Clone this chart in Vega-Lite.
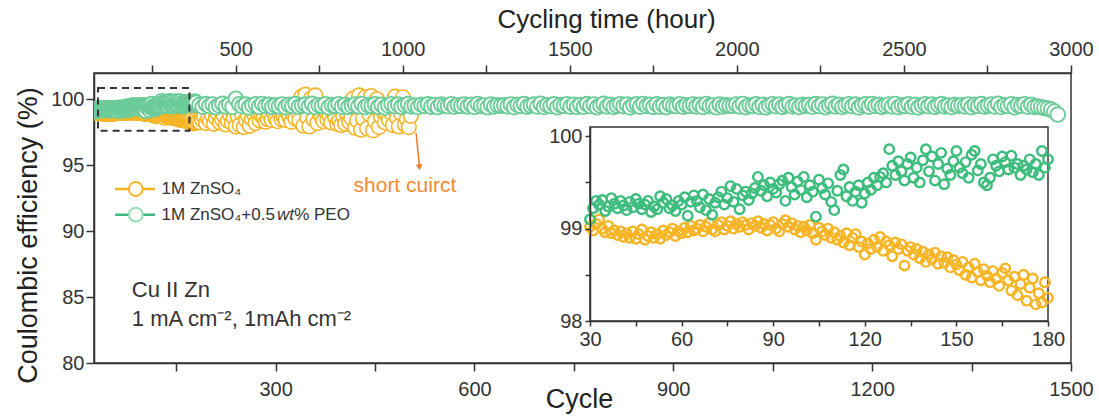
{
"$schema": "https://vega.github.io/schema/vega-lite/v6.json",
"width": 977, "height": 290,
"autosize": {"type": "none"},
"padding": {"left": 94, "top": 73, "right": 28, "bottom": 53},
"background": "white",
"config": {
  "font": "Liberation Sans",
  "view": {"stroke": "#333333", "strokeWidth": 1.5},
  "axis": {"grid": false, "domainColor": "#333333", "domainWidth": 1.5, "tickColor": "#333333", "tickWidth": 1.5, "labelColor": "#333333", "labelFont": "Liberation Sans", "titleFont": "Liberation Sans", "titleFontWeight": "normal", "titleColor": "#222222", "labelOverlap": false, "labelFlush": false, "labelFontSize": 20}
},
"datasets": {
"orange": [
{"c":27,"v":99.05},{"c":28,"v":99.00},{"c":29,"v":99.08},{"c":30,"v":99.02},{"c":31,"v":98.98},{"c":32,"v":99.05},{"c":33,"v":99.10},{"c":34,"v":99.00},{"c":35,"v":98.96},{"c":36,"v":99.03},{"c":37,"v":98.95},{"c":38,"v":98.98},{"c":39,"v":98.93},{"c":40,"v":98.97},{"c":41,"v":98.91},{"c":42,"v":98.95},{"c":43,"v":98.90},{"c":44,"v":98.97},{"c":45,"v":98.89},{"c":46,"v":98.94},{"c":47,"v":98.99},{"c":48,"v":98.88},{"c":49,"v":98.92},{"c":50,"v":98.96},{"c":51,"v":98.90},{"c":52,"v":98.94},{"c":53,"v":98.89},{"c":54,"v":98.98},{"c":55,"v":98.93},{"c":56,"v":98.96},{"c":57,"v":99.00},{"c":58,"v":98.92},{"c":59,"v":98.97},{"c":60,"v":98.95},{"c":61,"v":99.01},{"c":62,"v":98.96},{"c":63,"v":99.03},{"c":64,"v":98.98},{"c":65,"v":99.00},{"c":66,"v":99.04},{"c":67,"v":98.97},{"c":68,"v":99.02},{"c":69,"v":99.06},{"c":70,"v":98.99},{"c":71,"v":98.97},{"c":72,"v":99.04},{"c":73,"v":99.07},{"c":74,"v":98.99},{"c":75,"v":99.03},{"c":76,"v":99.08},{"c":77,"v":99.00},{"c":78,"v":99.05},{"c":79,"v":99.02},{"c":80,"v":99.07},{"c":81,"v":99.04},{"c":82,"v":98.99},{"c":83,"v":99.06},{"c":84,"v":99.03},{"c":85,"v":99.08},{"c":86,"v":99.01},{"c":87,"v":99.05},{"c":88,"v":98.98},{"c":89,"v":99.04},{"c":90,"v":99.07},{"c":91,"v":99.00},{"c":92,"v":98.97},{"c":93,"v":99.05},{"c":94,"v":99.09},{"c":95,"v":99.02},{"c":96,"v":99.06},{"c":97,"v":98.99},{"c":98,"v":99.03},{"c":99,"v":98.96},{"c":100,"v":99.02},{"c":101,"v":98.98},{"c":102,"v":99.04},{"c":103,"v":98.95},{"c":104,"v":98.88},{"c":105,"v":99.01},{"c":106,"v":98.97},{"c":107,"v":98.93},{"c":108,"v":99.00},{"c":109,"v":98.90},{"c":110,"v":98.96},{"c":111,"v":98.88},{"c":112,"v":98.92},{"c":113,"v":98.85},{"c":114,"v":98.95},{"c":115,"v":98.82},{"c":116,"v":98.90},{"c":117,"v":98.94},{"c":118,"v":98.80},{"c":119,"v":98.86},{"c":120,"v":98.72},{"c":121,"v":98.84},{"c":122,"v":98.78},{"c":123,"v":98.88},{"c":124,"v":98.80},{"c":125,"v":98.91},{"c":126,"v":98.76},{"c":127,"v":98.86},{"c":128,"v":98.82},{"c":129,"v":98.70},{"c":130,"v":98.85},{"c":131,"v":98.78},{"c":132,"v":98.83},{"c":133,"v":98.60},{"c":134,"v":98.76},{"c":135,"v":98.80},{"c":136,"v":98.72},{"c":137,"v":98.78},{"c":138,"v":98.68},{"c":139,"v":98.75},{"c":140,"v":98.64},{"c":141,"v":98.72},{"c":142,"v":98.67},{"c":143,"v":98.74},{"c":144,"v":98.62},{"c":145,"v":98.70},{"c":146,"v":98.63},{"c":147,"v":98.69},{"c":148,"v":98.58},{"c":149,"v":98.66},{"c":150,"v":98.61},{"c":151,"v":98.55},{"c":152,"v":98.64},{"c":153,"v":98.50},{"c":154,"v":98.58},{"c":155,"v":98.47},{"c":156,"v":98.62},{"c":157,"v":98.53},{"c":158,"v":98.44},{"c":159,"v":98.56},{"c":160,"v":98.49},{"c":161,"v":98.42},{"c":162,"v":98.54},{"c":163,"v":98.46},{"c":164,"v":98.38},{"c":165,"v":98.52},{"c":166,"v":98.57},{"c":167,"v":98.44},{"c":168,"v":98.33},{"c":169,"v":98.48},{"c":170,"v":98.28},{"c":171,"v":98.40},{"c":172,"v":98.50},{"c":173,"v":98.22},{"c":174,"v":98.36},{"c":175,"v":98.46},{"c":176,"v":98.18},{"c":177,"v":98.30},{"c":178,"v":98.20},{"c":179,"v":98.42},{"c":180,"v":98.25},
{"c":183,"v":98.30},{"c":186,"v":98.25},{"c":189,"v":98.45},{"c":192,"v":98.70},{"c":195,"v":98.20},{"c":198,"v":98.55},{"c":201,"v":98.35},{"c":204,"v":98.80},{"c":207,"v":98.15},{"c":210,"v":98.60},{"c":213,"v":98.90},{"c":216,"v":98.25},{"c":219,"v":98.50},{"c":222,"v":98.75},{"c":225,"v":98.10},{"c":228,"v":98.40},{"c":231,"v":98.85},{"c":234,"v":98.20},{"c":237,"v":98.60},{"c":240,"v":97.95},{"c":243,"v":98.70},{"c":246,"v":98.05},{"c":249,"v":98.95},{"c":252,"v":97.90},{"c":255,"v":98.45},{"c":258,"v":98.80},{"c":261,"v":98.00},{"c":264,"v":98.55},{"c":267,"v":98.90},{"c":270,"v":98.20},{"c":273,"v":99.00},{"c":276,"v":98.40},{"c":279,"v":98.75},{"c":282,"v":98.60},{"c":285,"v":98.30},{"c":288,"v":98.50},{"c":291,"v":98.85},{"c":294,"v":98.45},{"c":297,"v":99.05},{"c":300,"v":98.55},{"c":303,"v":98.35},{"c":306,"v":98.90},{"c":309,"v":98.50},{"c":312,"v":98.70},{"c":315,"v":98.45},{"c":318,"v":99.00},{"c":321,"v":98.65},{"c":324,"v":98.30},{"c":327,"v":98.85},{"c":330,"v":98.55},{"c":333,"v":99.10},{"c":336,"v":98.40},{"c":339,"v":100.20},{"c":342,"v":98.00},{"c":345,"v":100.35},{"c":348,"v":98.60},{"c":351,"v":97.95},{"c":354,"v":100.10},{"c":357,"v":98.50},{"c":360,"v":100.30},{"c":363,"v":98.20},{"c":366,"v":99.00},{"c":369,"v":98.70},{"c":372,"v":98.35},{"c":375,"v":99.15},{"c":378,"v":98.50},{"c":381,"v":98.80},{"c":384,"v":98.25},{"c":387,"v":99.05},{"c":390,"v":98.60},{"c":393,"v":98.15},{"c":396,"v":98.40},{"c":399,"v":98.05},{"c":402,"v":98.75},{"c":405,"v":98.15},{"c":408,"v":98.90},{"c":411,"v":98.30},{"c":414,"v":98.60},{"c":417,"v":100.05},{"c":420,"v":97.85},{"c":423,"v":98.40},{"c":426,"v":100.30},{"c":429,"v":97.70},{"c":432,"v":98.55},{"c":435,"v":100.15},{"c":438,"v":97.80},{"c":441,"v":98.90},{"c":444,"v":100.25},{"c":447,"v":97.65},{"c":450,"v":98.35},{"c":453,"v":100.00},{"c":456,"v":97.90},{"c":459,"v":98.70},{"c":462,"v":99.10},{"c":465,"v":98.25},{"c":468,"v":98.80},{"c":471,"v":98.45},{"c":474,"v":99.00},{"c":477,"v":98.05},{"c":480,"v":100.20},{"c":483,"v":98.60},{"c":486,"v":97.95},{"c":489,"v":98.95},{"c":492,"v":100.15},{"c":495,"v":98.10},{"c":498,"v":98.50},{"c":501,"v":97.90},{"c":504,"v":98.75}
],
"green": [
{"c":27,"v":99.20},{"c":28,"v":99.15},{"c":29,"v":99.25},{"c":30,"v":99.10},{"c":31,"v":99.22},{"c":32,"v":99.30},{"c":33,"v":99.26},{"c":34,"v":99.31},{"c":35,"v":99.19},{"c":36,"v":99.24},{"c":37,"v":99.33},{"c":38,"v":99.27},{"c":39,"v":99.22},{"c":40,"v":99.30},{"c":41,"v":99.25},{"c":42,"v":99.20},{"c":43,"v":99.29},{"c":44,"v":99.23},{"c":45,"v":99.32},{"c":46,"v":99.27},{"c":47,"v":99.21},{"c":48,"v":99.26},{"c":49,"v":99.30},{"c":50,"v":99.18},{"c":51,"v":99.24},{"c":52,"v":99.21},{"c":53,"v":99.35},{"c":54,"v":99.28},{"c":55,"v":99.32},{"c":56,"v":99.22},{"c":57,"v":99.25},{"c":58,"v":99.19},{"c":59,"v":99.30},{"c":60,"v":99.26},{"c":61,"v":99.34},{"c":62,"v":99.14},{"c":63,"v":99.29},{"c":64,"v":99.36},{"c":65,"v":99.30},{"c":66,"v":99.23},{"c":67,"v":99.37},{"c":68,"v":99.20},{"c":69,"v":99.32},{"c":70,"v":99.15},{"c":71,"v":99.28},{"c":72,"v":99.34},{"c":73,"v":99.40},{"c":74,"v":99.26},{"c":75,"v":99.33},{"c":76,"v":99.46},{"c":77,"v":99.29},{"c":78,"v":99.43},{"c":79,"v":99.21},{"c":80,"v":99.36},{"c":81,"v":99.40},{"c":82,"v":99.31},{"c":83,"v":99.38},{"c":84,"v":99.44},{"c":85,"v":99.56},{"c":86,"v":99.41},{"c":87,"v":99.47},{"c":88,"v":99.35},{"c":89,"v":99.50},{"c":90,"v":99.43},{"c":91,"v":99.39},{"c":92,"v":99.48},{"c":93,"v":99.52},{"c":94,"v":99.30},{"c":95,"v":99.55},{"c":96,"v":99.45},{"c":97,"v":99.37},{"c":98,"v":99.51},{"c":99,"v":99.42},{"c":100,"v":99.56},{"c":101,"v":99.34},{"c":102,"v":99.47},{"c":103,"v":99.40},{"c":104,"v":99.13},{"c":105,"v":99.53},{"c":106,"v":99.44},{"c":107,"v":99.37},{"c":108,"v":99.49},{"c":109,"v":99.29},{"c":110,"v":99.20},{"c":111,"v":99.41},{"c":112,"v":99.58},{"c":113,"v":99.64},{"c":114,"v":99.35},{"c":115,"v":99.45},{"c":116,"v":99.30},{"c":117,"v":99.40},{"c":118,"v":99.47},{"c":119,"v":99.28},{"c":120,"v":99.38},{"c":121,"v":99.50},{"c":122,"v":99.42},{"c":123,"v":99.55},{"c":124,"v":99.47},{"c":125,"v":99.56},{"c":126,"v":99.60},{"c":127,"v":99.50},{"c":128,"v":99.86},{"c":129,"v":99.68},{"c":130,"v":99.58},{"c":131,"v":99.73},{"c":132,"v":99.62},{"c":133,"v":99.52},{"c":134,"v":99.70},{"c":135,"v":99.77},{"c":136,"v":99.55},{"c":137,"v":99.66},{"c":138,"v":99.50},{"c":139,"v":99.74},{"c":140,"v":99.86},{"c":141,"v":99.62},{"c":142,"v":99.78},{"c":143,"v":99.52},{"c":144,"v":99.70},{"c":145,"v":99.82},{"c":146,"v":99.48},{"c":147,"v":99.65},{"c":148,"v":99.58},{"c":149,"v":99.73},{"c":150,"v":99.84},{"c":151,"v":99.66},{"c":152,"v":99.60},{"c":153,"v":99.72},{"c":154,"v":99.55},{"c":155,"v":99.80},{"c":156,"v":99.84},{"c":157,"v":99.63},{"c":158,"v":99.70},{"c":159,"v":99.50},{"c":160,"v":99.47},{"c":161,"v":99.55},{"c":162,"v":99.75},{"c":163,"v":99.68},{"c":164,"v":99.62},{"c":165,"v":99.78},{"c":166,"v":99.72},{"c":167,"v":99.64},{"c":168,"v":99.79},{"c":169,"v":99.66},{"c":170,"v":99.70},{"c":171,"v":99.58},{"c":172,"v":99.68},{"c":173,"v":99.64},{"c":174,"v":99.75},{"c":175,"v":99.61},{"c":176,"v":99.70},{"c":177,"v":99.58},{"c":178,"v":99.84},{"c":179,"v":99.66},{"c":180,"v":99.75},
{"c":185,"v":99.57},{"c":190,"v":99.44},{"c":195,"v":99.64},{"c":200,"v":99.49},{"c":205,"v":99.61},{"c":210,"v":99.40},{"c":215,"v":99.54},{"c":220,"v":99.66},{"c":225,"v":99.46},{"c":230,"v":99.59},{"c":235,"v":99.42},{"c":240,"v":100.05},{"c":245,"v":99.63},{"c":250,"v":99.48},{"c":255,"v":99.60},{"c":260,"v":99.39},{"c":265,"v":99.56},{"c":270,"v":99.62},{"c":275,"v":99.45},{"c":280,"v":99.65},{"c":285,"v":99.50},{"c":290,"v":99.58},{"c":295,"v":99.43},
{"c":300,"v":99.55},{"c":305,"v":99.47},{"c":310,"v":99.61},{"c":315,"v":99.41},{"c":320,"v":99.58},{"c":325,"v":99.50},{"c":330,"v":99.64},{"c":335,"v":99.44},{"c":340,"v":99.53},{"c":345,"v":99.60},{"c":350,"v":99.46},{"c":355,"v":99.66},{"c":360,"v":99.42},{"c":365,"v":99.56},{"c":370,"v":99.49},{"c":375,"v":99.62},{"c":380,"v":99.40},{"c":385,"v":99.57},{"c":390,"v":99.51},{"c":395,"v":99.63},{"c":400,"v":99.45},{"c":405,"v":99.59},{"c":410,"v":99.43},
{"c":415,"v":99.52},{"c":420,"v":99.61},{"c":425,"v":99.47},{"c":430,"v":99.65},{"c":435,"v":99.41},{"c":440,"v":99.55},{"c":445,"v":99.50},{"c":450,"v":99.62},{"c":455,"v":99.44},{"c":460,"v":99.58},{"c":465,"v":99.39},{"c":470,"v":99.54},{"c":475,"v":99.63},{"c":480,"v":99.48},{"c":485,"v":99.60},{"c":490,"v":99.43},{"c":495,"v":99.56},{"c":500,"v":99.64},{"c":505,"v":99.46},{"c":510,"v":99.53},{"c":515,"v":99.42},{"c":520,"v":99.59},{"c":525,"v":99.50},
{"c":530,"v":99.62},{"c":535,"v":99.45},{"c":540,"v":99.57},{"c":545,"v":99.41},{"c":550,"v":99.60},{"c":555,"v":99.52},{"c":560,"v":99.48},{"c":565,"v":99.63},{"c":570,"v":99.44},{"c":575,"v":99.56},{"c":580,"v":99.50},{"c":585,"v":99.61},{"c":590,"v":99.47},{"c":595,"v":99.58},{"c":600,"v":99.43},{"c":605,"v":99.65},{"c":610,"v":99.49},{"c":615,"v":99.54},{"c":620,"v":99.40},{"c":625,"v":99.60},{"c":630,"v":99.46},{"c":635,"v":99.55},{"c":640,"v":99.51},
{"c":645,"v":99.55},{"c":650,"v":99.47},{"c":655,"v":99.61},{"c":660,"v":99.41},{"c":665,"v":99.58},{"c":670,"v":99.50},{"c":675,"v":99.64},{"c":680,"v":99.44},{"c":685,"v":99.53},{"c":690,"v":99.60},{"c":695,"v":99.46},{"c":700,"v":99.66},{"c":705,"v":99.42},{"c":710,"v":99.56},{"c":715,"v":99.49},{"c":720,"v":99.62},{"c":725,"v":99.40},{"c":730,"v":99.57},{"c":735,"v":99.51},{"c":740,"v":99.63},{"c":745,"v":99.45},{"c":750,"v":99.59},{"c":755,"v":99.43},
{"c":760,"v":99.57},{"c":765,"v":99.44},{"c":770,"v":99.64},{"c":775,"v":99.49},{"c":780,"v":99.61},{"c":785,"v":99.40},{"c":790,"v":99.54},{"c":795,"v":99.66},{"c":800,"v":99.46},{"c":805,"v":99.59},{"c":810,"v":99.42},{"c":815,"v":99.53},{"c":820,"v":99.63},{"c":825,"v":99.48},{"c":830,"v":99.60},{"c":835,"v":99.39},{"c":840,"v":99.56},{"c":845,"v":99.62},{"c":850,"v":99.45},{"c":855,"v":99.65},{"c":860,"v":99.50},{"c":865,"v":99.58},{"c":870,"v":99.43},
{"c":875,"v":99.62},{"c":880,"v":99.45},{"c":885,"v":99.57},{"c":890,"v":99.41},{"c":895,"v":99.60},{"c":900,"v":99.52},{"c":905,"v":99.48},{"c":910,"v":99.63},{"c":915,"v":99.44},{"c":920,"v":99.56},{"c":925,"v":99.50},{"c":930,"v":99.61},{"c":935,"v":99.47},{"c":940,"v":99.58},{"c":945,"v":99.43},{"c":950,"v":99.65},{"c":955,"v":99.49},{"c":960,"v":99.54},{"c":965,"v":99.40},{"c":970,"v":99.60},{"c":975,"v":99.46},{"c":980,"v":99.55},{"c":985,"v":99.51},
{"c":990,"v":99.52},{"c":995,"v":99.61},{"c":1000,"v":99.47},{"c":1005,"v":99.65},{"c":1010,"v":99.41},{"c":1015,"v":99.55},{"c":1020,"v":99.50},{"c":1025,"v":99.62},{"c":1030,"v":99.44},{"c":1035,"v":99.58},{"c":1040,"v":99.39},{"c":1045,"v":99.54},{"c":1050,"v":99.63},{"c":1055,"v":99.48},{"c":1060,"v":99.60},{"c":1065,"v":99.43},{"c":1070,"v":99.56},{"c":1075,"v":99.64},{"c":1080,"v":99.46},{"c":1085,"v":99.53},{"c":1090,"v":99.42},{"c":1095,"v":99.59},{"c":1100,"v":99.50},
{"c":1105,"v":99.57},{"c":1110,"v":99.44},{"c":1115,"v":99.64},{"c":1120,"v":99.49},{"c":1125,"v":99.61},{"c":1130,"v":99.40},{"c":1135,"v":99.54},{"c":1140,"v":99.66},{"c":1145,"v":99.46},{"c":1150,"v":99.59},{"c":1155,"v":99.42},{"c":1160,"v":99.53},{"c":1165,"v":99.63},{"c":1170,"v":99.48},{"c":1175,"v":99.60},{"c":1180,"v":99.39},{"c":1185,"v":99.56},{"c":1190,"v":99.62},{"c":1195,"v":99.45},{"c":1200,"v":99.65},{"c":1205,"v":99.50},{"c":1210,"v":99.58},{"c":1215,"v":99.43},
{"c":1220,"v":99.52},{"c":1225,"v":99.61},{"c":1230,"v":99.47},{"c":1235,"v":99.65},{"c":1240,"v":99.41},{"c":1245,"v":99.55},{"c":1250,"v":99.50},{"c":1255,"v":99.62},{"c":1260,"v":99.44},{"c":1265,"v":99.58},{"c":1270,"v":99.39},{"c":1275,"v":99.54},{"c":1280,"v":99.63},{"c":1285,"v":99.48},{"c":1290,"v":99.60},{"c":1295,"v":99.43},{"c":1300,"v":99.56},{"c":1305,"v":99.64},{"c":1310,"v":99.46},{"c":1315,"v":99.53},{"c":1320,"v":99.42},{"c":1325,"v":99.59},{"c":1330,"v":99.50},
{"c":1335,"v":99.55},{"c":1340,"v":99.47},{"c":1345,"v":99.61},{"c":1350,"v":99.41},{"c":1355,"v":99.58},{"c":1360,"v":99.50},{"c":1365,"v":99.64},{"c":1370,"v":99.44},{"c":1375,"v":99.53},{"c":1380,"v":99.60},{"c":1385,"v":99.46},{"c":1390,"v":99.66},{"c":1395,"v":99.42},{"c":1400,"v":99.56},{"c":1405,"v":99.49},{"c":1410,"v":99.62},{"c":1415,"v":99.40},{"c":1420,"v":99.57},{"c":1425,"v":99.51},{"c":1430,"v":99.63},{"c":1435,"v":99.45},{"c":1440,"v":99.59},{"c":1445,"v":99.43},
{"c":1450,"v":99.45},{"c":1455,"v":99.40},{"c":1460,"v":99.35},{"c":1465,"v":99.30},{"c":1470,"v":99.22},{"c":1475,"v":99.08},{"c":1480,"v":98.85}
],
"hours": [{"h":76},{"h":3000}]
},
"resolve": {"scale": {"x": "independent", "y": "independent"}, "axis": {"x": "independent", "y": "independent"}},
"layer": [
{
  "data": {"values": [{}]},
  "layer": [
    {"data": {"name": "orange"},
     "mark": {"type": "point", "shape": "circle", "filled": true, "fill": "white", "stroke": "#F6B526", "strokeWidth": 1.6, "size": 215, "opacity": 1, "clip": true},
     "encoding": {
       "x": {"field": "c", "type": "quantitative", "scale": {"domain": [26, 1500], "nice": false, "zero": false},
             "axis": {"orient": "bottom", "format": "d", "values": [150,300,450,600,750,900,1050,1200,1350,1500], "labelExpr": "datum.value % 300 === 0 ? datum.label : ''", "title": "Cycle", "titleFontSize": 27, "tickSize": 8, "labelPadding": 8, "titleBaseline": "alphabetic", "titleY": 44, "titleX": 485}},
       "y": {"field": "v", "type": "quantitative", "scale": {"domain": [80, 102], "nice": false, "zero": false},
             "axis": {"orient": "left", "values": [80,82.5,85,87.5,90,92.5,95,97.5,100], "labelExpr": "datum.value % 5 === 0 ? datum.label : ''", "title": "Coulombic efficiency (%)", "titleFontSize": 27, "tickSize": 8, "labelPadding": 2, "titleAngle": -90, "titleAlign": "center", "titleBaseline": "middle", "titleX": -66, "titleY": 162}}
     }},
    {"data": {"name": "green"},
     "mark": {"type": "point", "shape": "circle", "filled": true, "fill": "white", "stroke": "#6CCB99", "strokeWidth": 1.9, "size": 215, "opacity": 1, "clip": true},
     "encoding": {"x": {"field": "c", "type": "quantitative"}, "y": {"field": "v", "type": "quantitative"}}},
    {"mark": {"type": "rect", "fill": "white", "fillOpacity": 0, "stroke": "#333333", "strokeWidth": 2, "strokeDash": [7, 5]},
     "encoding": {"x": {"datum": 32, "type": "quantitative"}, "x2": {"datum": 170}, "y": {"datum": 97.62, "type": "quantitative"}, "y2": {"datum": 100.86}}},
    {"mark": {"type": "rule", "color": "#F07A2A", "strokeWidth": 1.5},
     "encoding": {"x": {"datum": 512, "type": "quantitative"}, "x2": {"datum": 517}, "y": {"datum": 97.45, "type": "quantitative"}, "y2": {"datum": 94.9}}},
    {"mark": {"type": "point", "shape": "triangle-down", "filled": true, "color": "#F07A2A", "size": 45, "angle": -6, "opacity": 1},
     "encoding": {"x": {"datum": 517, "type": "quantitative"}, "y": {"datum": 94.85, "type": "quantitative"}}},
    {"mark": {"type": "text", "text": "short cuirct", "color": "#F28A2E", "fontSize": 21, "align": "center", "baseline": "middle"},
     "encoding": {"x": {"datum": 495, "type": "quantitative"}, "y": {"datum": 93.4, "type": "quantitative"}}},
    {"mark": {"type": "text", "text": "Cu II Zn", "color": "#333333", "fontSize": 22, "align": "left", "baseline": "middle"},
     "encoding": {"x": {"datum": 83, "type": "quantitative"}, "y": {"datum": 85.56, "type": "quantitative"}}},
    {"mark": {"type": "text", "text": "1 mA cm⁻², 1mAh cm⁻²", "color": "#333333", "fontSize": 22, "align": "left", "baseline": "middle"},
     "encoding": {"x": {"datum": 83, "type": "quantitative"}, "y": {"datum": 83.36, "type": "quantitative"}}},
    {"mark": {"type": "rule", "color": "#F0B020", "strokeWidth": 2.5},
     "encoding": {"x": {"datum": 58, "type": "quantitative"}, "x2": {"datum": 118}, "y": {"datum": 93.2, "type": "quantitative"}}},
    {"mark": {"type": "point", "shape": "circle", "filled": true, "fill": "white", "stroke": "#F6B526", "strokeWidth": 2, "size": 190, "opacity": 1},
     "encoding": {"x": {"datum": 89, "type": "quantitative"}, "y": {"datum": 93.2, "type": "quantitative"}}},
    {"mark": {"type": "text", "text": "1M ZnSO₄", "color": "#333333", "fontSize": 17, "align": "left", "baseline": "middle"},
     "encoding": {"x": {"datum": 128, "type": "quantitative"}, "y": {"datum": 93.2, "type": "quantitative"}}},
    {"mark": {"type": "rule", "color": "#3DB97E", "strokeWidth": 2.5},
     "encoding": {"x": {"datum": 58, "type": "quantitative"}, "x2": {"datum": 118}, "y": {"datum": 91.25, "type": "quantitative"}}},
    {"mark": {"type": "point", "shape": "circle", "filled": true, "fill": "white", "stroke": "#9ADDB9", "strokeWidth": 2, "size": 190, "opacity": 1},
     "encoding": {"x": {"datum": 89, "type": "quantitative"}, "y": {"datum": 91.25, "type": "quantitative"}}},
    {"mark": {"type": "text", "text": "1M ZnSO₄+0.5", "color": "#333333", "fontSize": 17, "align": "left", "baseline": "middle"},
     "encoding": {"x": {"datum": 128, "type": "quantitative"}, "y": {"datum": 91.25, "type": "quantitative"}}},
    {"mark": {"type": "text", "text": "wt", "color": "#333333", "fontSize": 17, "fontStyle": "italic", "align": "left", "baseline": "middle"},
     "encoding": {"x": {"datum": 302, "type": "quantitative"}, "y": {"datum": 91.25, "type": "quantitative"}}},
    {"mark": {"type": "text", "text": "% PEO", "color": "#333333", "fontSize": 17, "align": "left", "baseline": "middle"},
     "encoding": {"x": {"datum": 328, "type": "quantitative"}, "y": {"datum": 91.25, "type": "quantitative"}}}
  ]
},
{
  "data": {"name": "hours"},
  "mark": {"type": "point", "opacity": 0},
  "encoding": {
    "x": {"field": "h", "type": "quantitative", "scale": {"domain": [76, 3000], "nice": false, "zero": false},
          "axis": {"orient": "top", "format": "d", "values": [250,500,750,1000,1250,1500,1750,2000,2250,2500,2750,3000], "labelExpr": "datum.value % 500 === 0 ? datum.label : ''", "title": "Cycling time (hour)", "titleFontSize": 26, "tickSize": 8, "labelPadding": 6, "titleBaseline": "alphabetic", "titleY": -46, "titleX": 512}}
  }
},
{
  "data": {"values": [{}]},
  "layer": [
    {"mark": {"type": "rect", "fill": "white", "stroke": "#333333", "strokeWidth": 1.5},
     "encoding": {
       "x": {"datum": 30, "type": "quantitative", "scale": {"domain": [30, 180], "range": [496, 954], "nice": false, "zero": false},
             "axis": {"orient": "bottom", "format": "d", "offset": -42, "values": [30,45,60,75,90,105,120,135,150,165,180], "labelExpr": "datum.value % 30 === 0 ? datum.label : ''", "title": null, "tickSize": 5, "labelPadding": 3, "labelOverlap": false, "zindex": 1}},
       "x2": {"datum": 180},
       "y": {"datum": 98, "type": "quantitative", "scale": {"domain": [98, 100.1], "range": [248, 54], "nice": false, "zero": false},
             "axis": {"orient": "left", "offset": -496, "values": [98, 98.5, 99, 99.5, 100], "labelExpr": "datum.value % 1 === 0 ? '' + datum.value : ''", "title": null, "tickSize": 5, "labelPadding": 3, "labelOverlap": false, "zindex": 1}},
       "y2": {"datum": 100.1}
     }},
    {"data": {"name": "orange"},
     "transform": [{"filter": "datum.c >= 30 && datum.c <= 180"}],
     "mark": {"type": "point", "shape": "circle", "filled": false, "stroke": "#F6B526", "strokeWidth": 2.4, "size": 90, "opacity": 1},
     "encoding": {"x": {"field": "c", "type": "quantitative"}, "y": {"field": "v", "type": "quantitative"}}},
    {"data": {"name": "green"},
     "transform": [{"filter": "datum.c >= 30 && datum.c <= 180"}],
     "mark": {"type": "point", "shape": "circle", "filled": false, "stroke": "#3DBD7D", "strokeWidth": 2.4, "size": 90, "opacity": 1},
     "encoding": {"x": {"field": "c", "type": "quantitative"}, "y": {"field": "v", "type": "quantitative"}}}
  ]
}
]
}
